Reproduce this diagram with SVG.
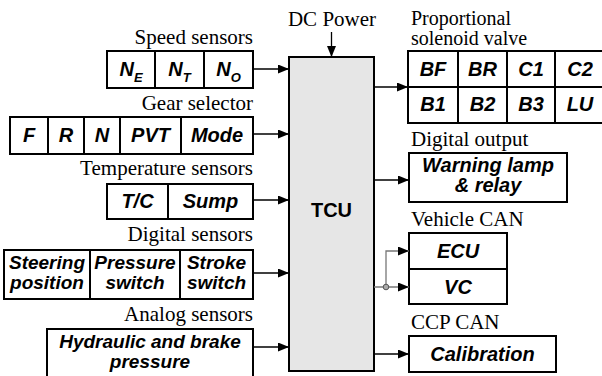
<svg xmlns="http://www.w3.org/2000/svg" width="602" height="376" viewBox="0 0 602 376">
<defs>
<marker id="ah" markerWidth="11" markerHeight="9" refX="11" refY="4.5" orient="auto" markerUnits="userSpaceOnUse"><path d="M0,0 L11,4.5 L0,9 z" fill="#000"/></marker>
<style>
.box{fill:#fff;stroke:#000;stroke-width:2}
.div{stroke:#000;stroke-width:2;fill:none}
.lab{font-family:"Liberation Serif","Times New Roman",serif;font-size:21px;fill:#000}
.lab2{font-size:20px}
.cell{font-family:"Liberation Sans",Arial,sans-serif;font-size:20px;font-weight:bold;font-style:italic;text-anchor:middle;fill:#000}
.sm{font-size:19px}
.sub{font-size:13px}
.con{stroke:#000;stroke-width:1.3;fill:none}
.gcon{stroke:#777;stroke-width:1.3;fill:none}
</style>
</defs>
<rect width="602" height="376" fill="#fff"/>

<g id="tcu">
<rect x="289" y="57" width="85" height="314" fill="#e6e6e6" stroke="#000" stroke-width="2"/>
<text x="331.5" y="217" font-family="Liberation Sans,Arial,sans-serif" font-size="20" font-weight="bold" text-anchor="middle">TCU</text>
<text class="lab" x="332" y="26" text-anchor="middle">DC Power</text>
</g>

<g id="speed">
<text class="lab" x="253" y="44" text-anchor="end">Speed sensors</text>
<rect class="box" x="107" y="51" width="146" height="37"/>
<path class="div" d="M155,51V88M204,51V88"/>
<text class="cell" x="131" y="76">N<tspan class="sub" dy="6">E</tspan></text>
<text class="cell" x="179.5" y="76">N<tspan class="sub" dy="6">T</tspan></text>
<text class="cell" x="228.5" y="76">N<tspan class="sub" dy="6">O</tspan></text>
</g>

<g id="gear">
<text class="lab" x="253" y="110" text-anchor="end">Gear selector</text>
<rect class="box" x="10" y="117" width="243" height="37"/>
<path class="div" d="M48,117V154M84,117V154M120,117V154M181,117V154"/>
<text class="cell" x="29" y="142">F</text>
<text class="cell" x="66" y="142">R</text>
<text class="cell" x="102" y="142">N</text>
<text class="cell" x="150.5" y="142">PVT</text>
<text class="cell" x="217" y="142">Mode</text>
</g>

<g id="temp">
<text class="lab" x="253" y="175" text-anchor="end">Temperature sensors</text>
<rect class="box" x="107" y="184" width="146" height="35"/>
<path class="div" d="M168,184V219"/>
<text class="cell" x="137.5" y="208">T/C</text>
<text class="cell" x="210.5" y="208">Sump</text>
</g>

<g id="digital">
<text class="lab" x="253" y="241" text-anchor="end">Digital sensors</text>
<rect class="box" x="4" y="250" width="249" height="49"/>
<path class="div" d="M90,250V299M180,250V299"/>
<text class="cell sm" x="47" y="269">Steering<tspan x="47" dy="20">position</tspan></text>
<text class="cell sm" x="135" y="269">Pressure<tspan x="135" dy="20">switch</tspan></text>
<text class="cell sm" x="216.5" y="269">Stroke<tspan x="216.5" dy="20">switch</tspan></text>
</g>

<g id="analog">
<text class="lab" x="253" y="321" text-anchor="end">Analog sensors</text>
<rect class="box" x="47" y="329" width="206" height="52"/>
<text class="cell sm" x="150" y="348">Hydraulic and brake<tspan x="150" dy="20">pressure</tspan></text>
</g>

<g id="valve">
<text class="lab lab2" x="411" y="25">Proportional<tspan x="411" dy="20">solenoid valve</tspan></text>
<rect class="box" x="408" y="51" width="198" height="72"/>
<path class="div" d="M408,87H606M458,51V123M507,51V123M555,51V123"/>
<text class="cell" x="433" y="76">BF</text>
<text class="cell" x="482.5" y="76">BR</text>
<text class="cell" x="531" y="76">C1</text>
<text class="cell" x="580" y="76">C2</text>
<text class="cell" x="433" y="111">B1</text>
<text class="cell" x="482.5" y="111">B2</text>
<text class="cell" x="531" y="111">B3</text>
<text class="cell" x="580" y="111">LU</text>
</g>

<g id="dout">
<text class="lab" x="411" y="146">Digital output</text>
<rect class="box" x="409" y="153" width="158" height="49"/>
<text class="cell" x="488" y="172">Warning lamp<tspan x="488" dy="20">&amp; relay</tspan></text>
</g>

<g id="vcan">
<text class="lab" x="411" y="226">Vehicle CAN</text>
<rect class="box" x="409" y="233" width="98" height="71"/>
<path class="div" d="M409,269H507"/>
<text class="cell" x="458" y="258">ECU</text>
<text class="cell" x="458" y="294">VC</text>
</g>

<g id="ccp">
<text class="lab" x="411" y="329">CCP CAN</text>
<rect class="box" x="409" y="336" width="147" height="36"/>
<text class="cell" x="482.5" y="361">Calibration</text>
</g>

<g id="connectors">
<path class="con" d="M253,69H289" marker-end="url(#ah)"/>
<path class="con" d="M253,134H289" marker-end="url(#ah)"/>
<path class="con" d="M253,200H289" marker-end="url(#ah)"/>
<path class="con" d="M253,273H289" marker-end="url(#ah)"/>
<path class="con" d="M253,347H289" marker-end="url(#ah)"/>
<path class="con" d="M331.5,32V57" marker-end="url(#ah)"/>
<path class="con" d="M374,87H408" marker-end="url(#ah)"/>
<path class="con" d="M374,180H409" marker-end="url(#ah)"/>
<path class="gcon" d="M374,287H409" marker-end="url(#ah)"/>
<path class="gcon" d="M386,287V251H409" marker-end="url(#ah)"/>
<circle cx="386" cy="287" r="2.8" fill="#aaa" stroke="#555" stroke-width="1"/>
<path class="con" d="M374,354H409" marker-end="url(#ah)"/>
</g>
</svg>
